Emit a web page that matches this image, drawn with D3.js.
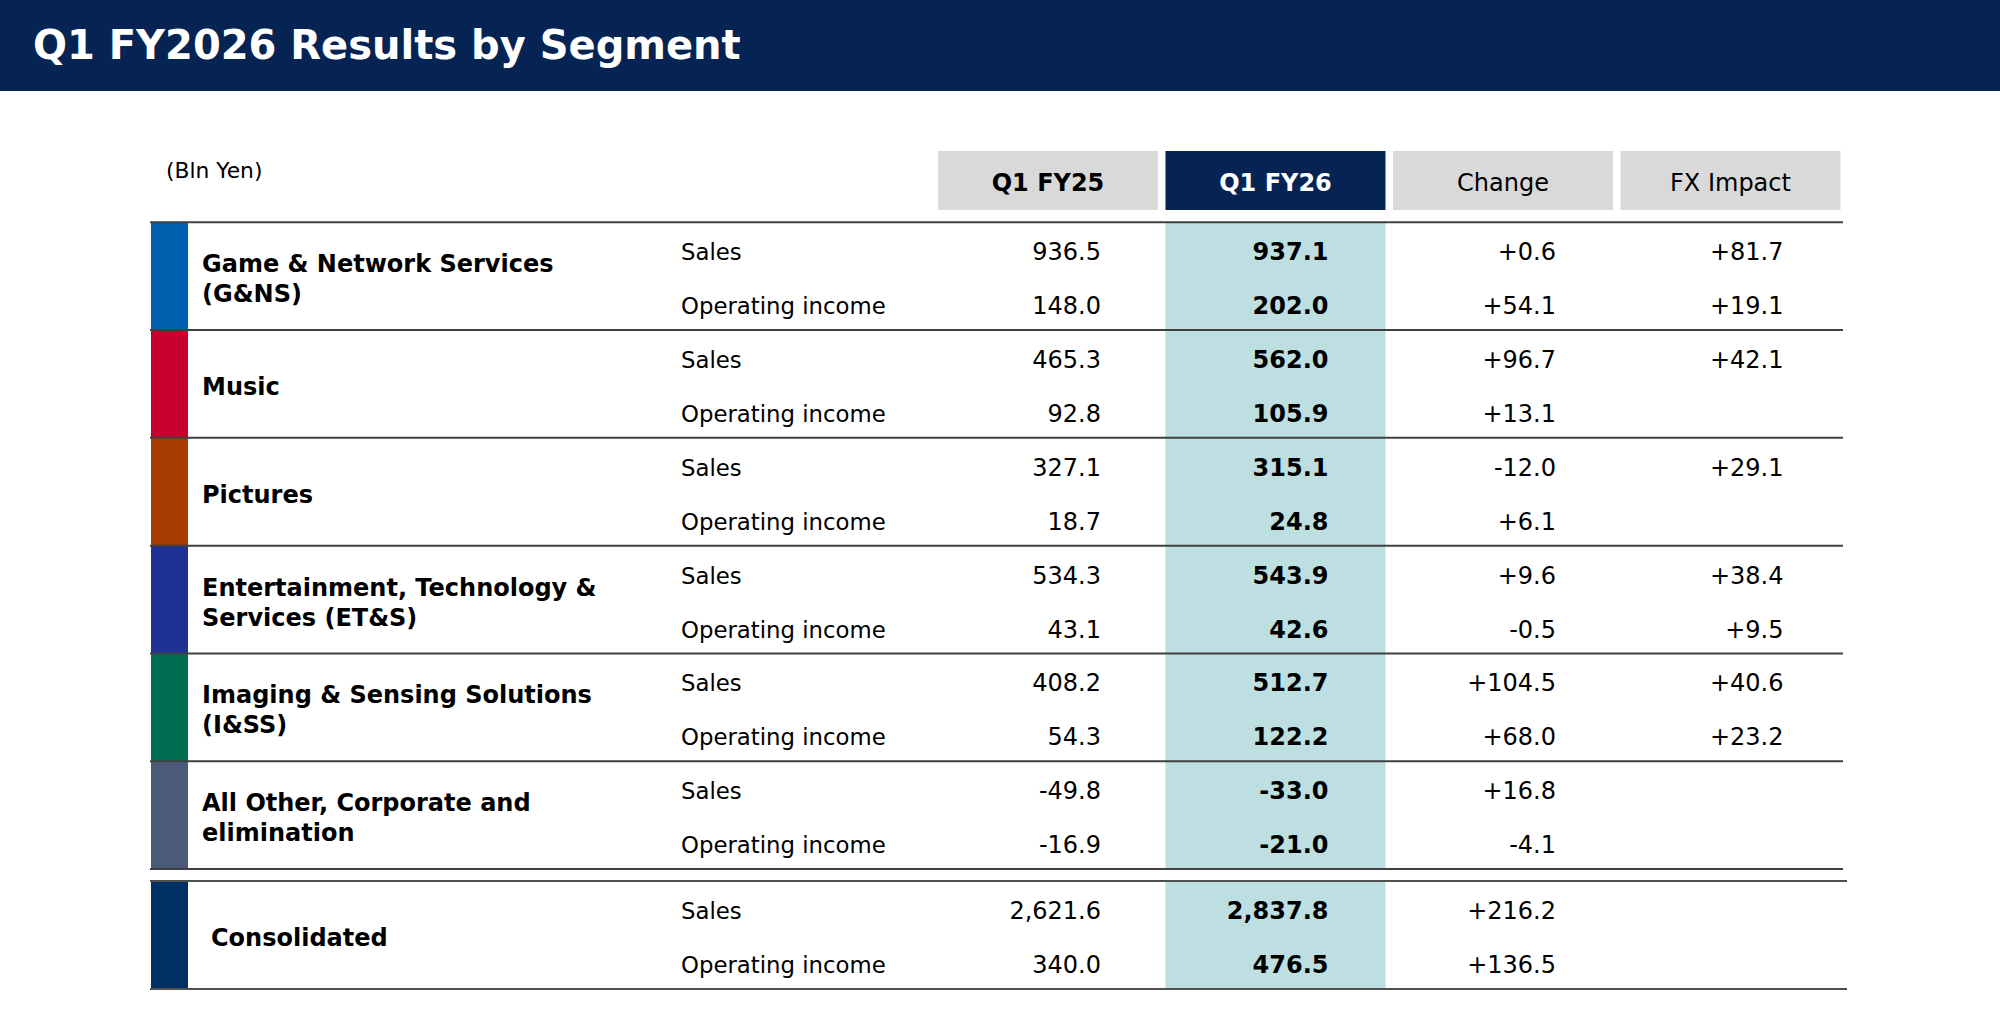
<!DOCTYPE html>
<html>
<head>
<meta charset="utf-8">
<script src="https://cdn.jsdelivr.net/npm/d3@7"></script>
<style>
  body { margin: 0; background: #fff; }
  svg text { font-family: "DejaVu Sans", Verdana, sans-serif; }
</style>
</head>
<body>
<div id="chart"></div>
<script>
// data
var columns = ["Q1 FY25", "Q1 FY26", "Change", "FX Impact"];
var segments = [
  ["Game & Network Services", "(G&NS)"],
  ["Music"],
  ["Pictures"],
  ["Entertainment, Technology &", "Services (ET&S)"],
  ["Imaging & Sensing Solutions", "(I&SS)"],
  ["All Other, Corporate and", "elimination"]
];
var segColors = ["#0060b0", "#c8002d", "#a83c00", "#1e3296", "#006e50", "#4b5a78"];
var lineLabels = ["Sales", "Operating income"];

// [sales, operating income] per segment
var fy25   = [["936.5", "148.0"], ["465.3", "92.8"], ["327.1", "18.7"], ["534.3", "43.1"], ["408.2", "54.3"], ["-49.8", "-16.9"]];
var fy26   = [["937.1", "202.0"], ["562.0", "105.9"], ["315.1", "24.8"], ["543.9", "42.6"], ["512.7", "122.2"], ["-33.0", "-21.0"]];
var change = [["+0.6", "+54.1"], ["+96.7", "+13.1"], ["-12.0", "+6.1"], ["+9.6", "-0.5"], ["+104.5", "+68.0"], ["+16.8", "-4.1"]];
var fx     = [["+81.7", "+19.1"], ["+42.1", ""], ["+29.1", ""], ["+38.4", "+9.5"], ["+40.6", "+23.2"], ["", ""]];

var consLabel = "Consolidated";
var consColor = "#003064";
var cons = {fy25: ["2,621.6", "340.0"], fy26: ["2,837.8", "476.5"], change: ["+216.2", "+136.5"], fx: ["", ""]};

var W = 2000, H = 1036;
var svg = d3.select("#chart").append("svg").attr("width", W).attr("height", H);

// title bar
svg.append("rect").attr("x", 0).attr("y", 0).attr("width", W).attr("height", 91).attr("fill", "#052453");
svg.append("text").attr("x", 33).attr("y", 59)
  .attr("font-size", 40).attr("font-weight", "bold").attr("fill", "#fff")
  .text("Q1 FY2026 Results by Segment");

svg.append("text").attr("x", 166).attr("y", 178).attr("font-size", 21.8).attr("fill", "#000").text("(Bln Yen)");

// scales
var x = d3.scaleBand().domain(columns).range([938, 1840.5]).paddingInner(0.033).paddingOuter(0);
var y = d3.scaleLinear().domain([0, segments.length]).range([222.3, 869]);
var segH = y(1) - y(0);
var consTop = 881, consBottom = 989;

// header cells
var hdr = svg.selectAll("g.hdr").data(columns).enter().append("g").attr("class", "hdr");
hdr.append("rect")
  .attr("x", function(d) { return x(d); }).attr("y", 151)
  .attr("width", x.bandwidth()).attr("height", 59)
  .attr("fill", function(d) { return d == "Q1 FY26" ? "#052453" : "#d9d9d9"; });
hdr.append("text")
  .attr("x", function(d) { return x(d) + x.bandwidth() / 2; }).attr("y", 191)
  .attr("text-anchor", "middle").attr("font-size", 24)
  .attr("font-weight", function(d, i) { return i < 2 ? "bold" : "normal"; })
  .attr("fill", function(d) { return d == "Q1 FY26" ? "#fff" : "#000"; })
  .text(function(d) { return d; });

// highlight column
svg.append("rect").attr("x", x("Q1 FY26")).attr("y", y(0)).attr("width", x.bandwidth())
  .attr("height", y(segments.length) - y(0)).attr("fill", "#bddfe1");
svg.append("rect").attr("x", x("Q1 FY26")).attr("y", consTop).attr("width", x.bandwidth())
  .attr("height", consBottom - consTop).attr("fill", "#bddfe1");

// color bars
svg.selectAll("rect.bar").data(segColors).enter().append("rect").attr("class", "bar")
  .attr("x", 151).attr("width", 37)
  .attr("y", function(d, i) { return y(i); }).attr("height", segH)
  .attr("fill", function(d) { return d; });
svg.append("rect").attr("x", 151).attr("width", 37).attr("y", consTop).attr("height", consBottom - consTop).attr("fill", consColor);

// segment labels
segments.forEach(function(lines, i) {
  var t = svg.append("text").attr("font-size", 24).attr("font-weight", "bold").attr("fill", "#000");
  var base = lines.length == 1 ? y(i) + 65 : y(i) + 50;
  lines.forEach(function(s, j) {
    t.append("tspan").attr("x", 202).attr("y", base + j * 30).text(s);
  });
});
svg.append("text").attr("x", 211).attr("y", consTop + 65).attr("font-size", 24)
  .attr("font-weight", "bold").text(consLabel);

// rows
function drawRows(top, v25, v26, vch, vfx) {
  lineLabels.forEach(function(lab, j) {
    var by = top + (j == 0 ? 38 : 92);
    svg.append("text").attr("x", 681).attr("y", by).attr("font-size", 22.8).text(lab);
    var vals = [v25[j], v26[j], vch[j], vfx[j]];
    columns.forEach(function(c, k) {
      if (!vals[k]) return;
      svg.append("text").attr("x", x(c) + 163).attr("y", by)
        .attr("text-anchor", "end").attr("font-size", 24)
        .attr("font-weight", c == "Q1 FY26" ? "bold" : "normal")
        .text(vals[k]);
    });
  });
}
segments.forEach(function(s, i) { drawRows(y(i), fy25[i], fy26[i], change[i], fx[i]); });
drawRows(consTop, cons.fy25, cons.fy26, cons.change, cons.fx);

// rules
var rules = d3.range(segments.length + 1).map(function(i) { return y(i); });
svg.selectAll("line.rule").data(rules).enter().append("line").attr("class", "rule")
  .attr("x1", 150).attr("x2", 1843).attr("y1", function(d) { return d; }).attr("y2", function(d) { return d; })
  .attr("stroke", "#404040").attr("stroke-width", 2);
[consTop, consBottom].forEach(function(d) {
  svg.append("line").attr("x1", 150).attr("x2", 1847).attr("y1", d).attr("y2", d)
    .attr("stroke", "#505050").attr("stroke-width", 2);
});
</script>
</body>
</html>
